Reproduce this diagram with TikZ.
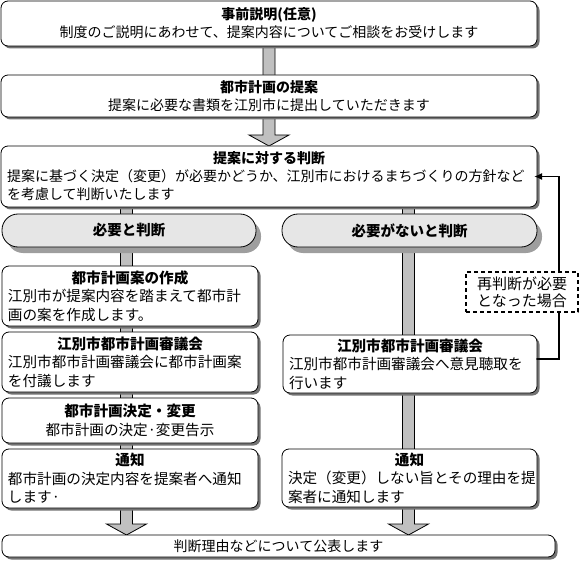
\documentclass[tikz,border=0pt]{standalone}
\usepackage{fontspec}
\setmainfont{Noto Sans CJK JP}
\usetikzlibrary{calc,shadows,backgrounds,arrows.meta}
\definecolor{barGray}{HTML}{C0C0C0}
\definecolor{ovalGray}{HTML}{E6E6E6}
\tikzset{
    stepbox/.style={
        draw, fill=white, rounded corners=7pt, line width=0.8pt,
        anchor=north west, inner xsep=6pt, inner ysep=0pt, outer sep=0pt,
        font=\fontsize{14}{18}\selectfont,
        drop shadow={shadow xshift=2.5pt, shadow yshift=-2.5pt, fill=black!55, opacity=1}
    },
    colbox/.style={
        stepbox, align=left, text width=244pt,
        font=\fontsize{14.6}{18.5}\selectfont
    },
    ovalbox/.style={
        draw, fill=ovalGray, rounded corners=16pt, line width=0.8pt,
        anchor=north west, inner sep=0pt, outer sep=0pt, minimum height=33pt,
        font=\fontsize{14.5}{18}\selectfont\bfseries,
        drop shadow={shadow xshift=5pt, shadow yshift=-6pt, fill=black!38, opacity=1}
    },
    notebox/.style={
        draw, fill=white, dash pattern=on 4pt off 3pt, line width=1.6pt, line cap=butt,
        anchor=north west, inner sep=0pt, outer sep=0pt, align=center,
        font=\fontsize{15}{17}\selectfont
    },
    arrowbody/.style={draw, fill=barGray, line width=0.8pt},
    backline/.style={line width=1.8pt, line join=miter, -{Latex[length=8pt,width=7pt]}, shorten >=-3pt}
}
% wide grey arrow: #1 tail, #2 tip (same x)
\newcommand{\blockarrow}[2]{%
  \draw[arrowbody] ($(#1)+(-6,0)$) -- ($(#2)+(-6,-11)$) -- ($(#2)+(-20,-11)$) -- (#2)
    -- ($(#2)+(20,-11)$) -- ($(#2)+(6,-11)$) -- ($(#1)+(6,0)$) -- cycle;
}

\begin{document}
\begin{tikzpicture}[x=1pt, y=-1pt, line cap=round, line join=round]
\useasboundingbox (0,0) rectangle (580,561);

% common steps
\node[stepbox, align=center, text width=524pt, minimum height=45pt] (prior) at (1,1)
  {\textbf{事前説明(任意)}\\制度のご説明にあわせて、提案内容についてご相談をお受けします};
\node[stepbox, align=center, text width=524pt, minimum height=42pt] (proposal) at (1,75)
  {\textbf{都市計画の提案}\\提案に必要な書類を江別市に提出していただきます};
\node[stepbox, align=left, text width=524pt, minimum height=61pt] (judge) at (1,146)
  {{\centering\bfseries 提案に対する判断\par}提案に基づく決定（変更）が必要かどうか、江別市におけるまちづくりの方針など\\を考慮して判断いたします};

% two branches
\node[ovalbox, minimum width=254pt] (needL) at (2,214) {必要と判断};
\node[ovalbox, minimum width=255pt] (needR) at (282,214) {必要がないと判断};

% left column
\node[colbox, minimum height=60pt] (draft) at (2,266)
  {{\centering\bfseries 都市計画案の作成\par}江別市が提案内容を踏まえて都市計\\画の案を作成します。};
\node[colbox, minimum height=60pt] (councilL) at (2,332)
  {{\centering\bfseries 江別市都市計画審議会\par}江別市都市計画審議会に都市計画案\\を付議します};
\node[colbox, align=center, minimum height=45pt] (decide) at (2,398)
  {\textbf{都市計画決定・変更}\\都市計画の決定·変更告示};
\node[colbox, minimum height=59pt] (notifyL) at (2,449)
  {{\centering\bfseries 通知\par}都市計画の決定内容を提案者へ通知\\します·};

% right column
\node[colbox, text width=242pt, minimum height=58pt] (councilR) at (283,335)
  {{\centering\bfseries 江別市都市計画審議会\par}江別市都市計画審議会へ意見聴取を\\行います};
\node[colbox, text width=243pt, minimum height=58pt] (notifyR) at (282,449)
  {{\centering\bfseries 通知\par}決定（変更）しない旨とその理由を提\\案者に通知します};

% last step
\node[stepbox, align=center, text width=541pt, minimum height=22pt] (publish) at (2,535)
  {判断理由などについて公表します};

% grey arrows behind the boxes
\coordinate (colL) at (126.5,0);
\coordinate (colR) at (408.5,0);
\coordinate (topL) at (judge.south -| colL);
\coordinate (tipL) at (publish.north -| colL);
\coordinate (topR) at (judge.south -| colR);
\coordinate (tipR) at (publish.north -| colR);
\begin{scope}[on background layer]
  \blockarrow{prior.south}{judge.north}
  \blockarrow{topL}{tipL}
  \blockarrow{topR}{tipR}
\end{scope}

% back to the judgement
\draw[backline] ([yshift=5pt]councilR.east) -| ($(judge.east)+(22,0)$) -- (judge.east);
\node[notebox, minimum width=112pt, minimum height=40pt] (rejudge) at (466,272)
  {再判断が必要\\となった場合};

\end{tikzpicture}
\end{document}
